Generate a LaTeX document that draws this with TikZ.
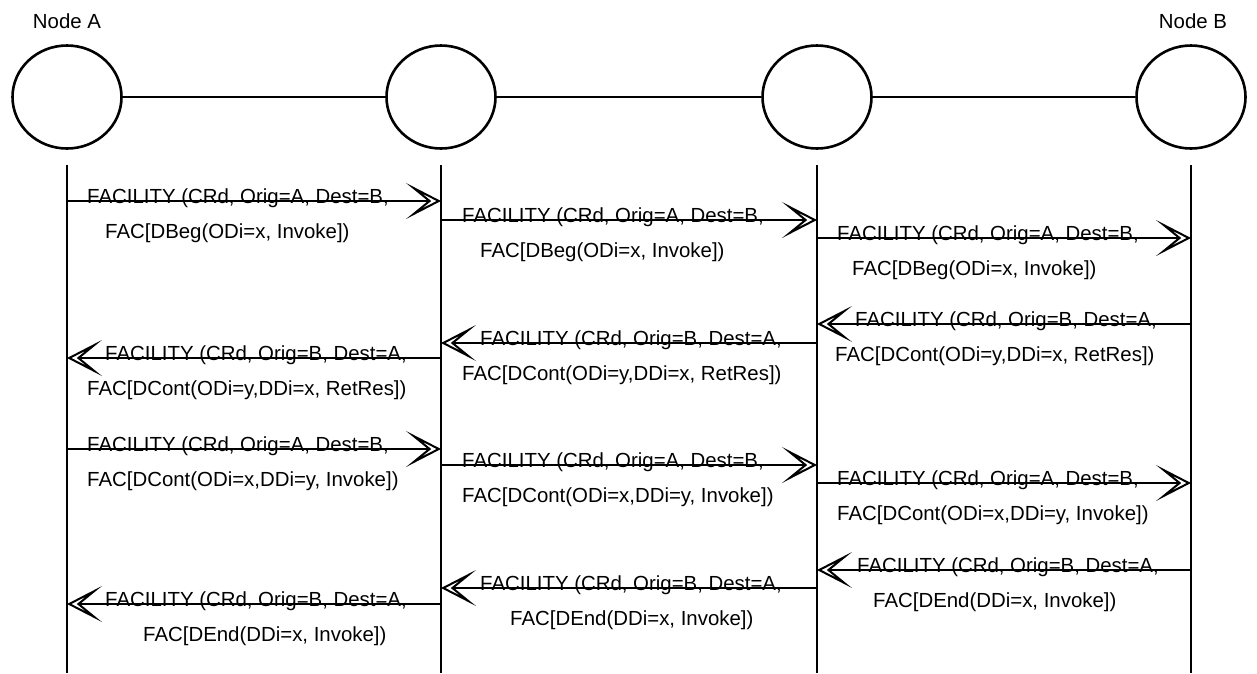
\documentclass[tikz,border=0pt]{standalone}
\usepackage{fontspec}
\setmainfont{Liberation Sans}
\usetikzlibrary{arrows.meta,shapes.geometric}
\tikzset{
  station/.style={
    draw,
    ellipse,
    minimum width=109pt,
    minimum height=103pt,
    inner sep=0pt,
    line width=2.6pt,
  },
  link/.style={line width=2.6pt},
  lifeline/.style={line width=2.8pt},
  msgtip/.tip={Stealth[open, length=35pt, width=36pt, inset=22pt, line join=miter]},
  msg/.style={
    line width=2pt,
    miter limit=40,
    arrows={-msgtip},
  },
  msgtext/.style={
    anchor=base west,
    inner sep=0pt,
    font=\fontsize{20.4}{24}\selectfont,
  },
  nodename/.style={
    anchor=base,
    inner sep=0pt,
    font=\fontsize{20.4}{24}\selectfont,
  },
}
\begin{document}
\begin{tikzpicture}[x=1pt,y=-1pt]
  \useasboundingbox (0,0) rectangle (1257,673);
  % stations and lifelines
  \foreach \nm/\x in {A/67,P/441,Q/817,B/1191} {
    \node[station] (st\nm) at (\x,97) {};
    \coordinate (top\nm) at (\x,165);
    \coordinate (bot\nm) at (\x,673);
    \draw[lifeline] (top\nm) -- (bot\nm);
  }
  \node[nodename] (nameA) at (67,28) {Node A};
  \node[nodename] (nameB) at (1193,28) {Node B};
  \draw[link] (stA) -- (stP);
  \draw[link] (stP) -- (stQ);
  \draw[link] (stQ) -- (stB);
  % messages: from/to/y/x of line 1/x of line 2/line 1/line 2
  \foreach \s/\t/\y/\fx/\sx/\first/\second [count=\i] in {
    A/P/201/87/105/{FACILITY (CRd, Orig=A, Dest=B,}/{FAC[DBeg(ODi=x, Invoke])},
    P/A/358/105/87/{FACILITY (CRd, Orig=B, Dest=A,}/{FAC[DCont(ODi=y,DDi=x, RetRes])},
    A/P/449/87/87/{FACILITY (CRd, Orig=A, Dest=B,}/{FAC[DCont(ODi=x,DDi=y, Invoke])},
    P/A/604/105/143/{FACILITY (CRd, Orig=B, Dest=A,}/{FAC[DEnd(DDi=x, Invoke])},
    P/Q/220/462/480/{FACILITY (CRd, Orig=A, Dest=B,}/{FAC[DBeg(ODi=x, Invoke])},
    Q/P/343/480/462/{FACILITY (CRd, Orig=B, Dest=A,}/{FAC[DCont(ODi=y,DDi=x, RetRes])},
    P/Q/465/462/462/{FACILITY (CRd, Orig=A, Dest=B,}/{FAC[DCont(ODi=x,DDi=y, Invoke])},
    Q/P/588/480/510/{FACILITY (CRd, Orig=B, Dest=A,}/{FAC[DEnd(DDi=x, Invoke])},
    Q/B/238/837/852/{FACILITY (CRd, Orig=A, Dest=B,}/{FAC[DBeg(ODi=x, Invoke])},
    B/Q/324/855/835/{FACILITY (CRd, Orig=B, Dest=A,}/{FAC[DCont(ODi=y,DDi=x, RetRes])},
    Q/B/483/837/837/{FACILITY (CRd, Orig=A, Dest=B,}/{FAC[DCont(ODi=x,DDi=y, Invoke])},
    B/Q/570/857/873/{FACILITY (CRd, Orig=B, Dest=A,}/{FAC[DEnd(DDi=x, Invoke])}%
  } {
    \coordinate (m\i s) at (top\s |- 0,\y);
    \coordinate (m\i t) at (top\t |- 0,\y);
    \node[msgtext] (m\i a) at (\fx,\y+2) {\first};
    \node[msgtext] (m\i b) at (\sx,\y+37) {\second};
    \draw[msg] (m\i s) -- (m\i t);
  }
\end{tikzpicture}
\end{document}
